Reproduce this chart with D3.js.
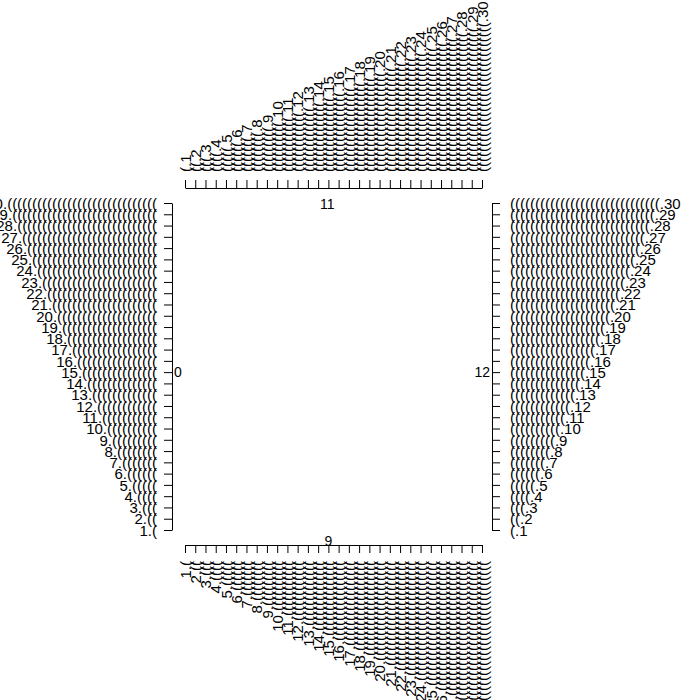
<!DOCTYPE html>
<html>
<head>
<meta charset="utf-8">
<script src="https://cdn.jsdelivr.net/npm/d3@7"></script>
<style>
  html, body { margin: 0; padding: 0; background: #fff; }
  svg { display: block; }
  text { font-family: "Liberation Sans", Arial, Helvetica, sans-serif; fill: #000; }
</style>
</head>
<body>
<svg id="chart" width="700" height="700"></svg>
<script>
// ---- data ----
const tickValues = [1,2,3,4,5,6,7,8,9,10,11,12,13,14,15,16,17,18,19,20,21,22,23,24,25,26,27,28,29,30];
const parenCounts = [1,2,3,4,5,6,7,8,9,10,11,12,13,14,15,16,17,18,19,20,21,22,23,24,25,26,27,28,29,30];
const axisTitles = { top: "11", left: "0", right: "12", bottom: "9" };
const titleAt = 15;

// labels: parens then ".n" (top/right), "n." then parens (left/bottom)
const labelParenFirst = tickValues.map((v, i) => "(".repeat(parenCounts[i]) + "." + v);
const labelNumberFirst = tickValues.map((v, i) => v + "." + "(".repeat(parenCounts[i]));

// ---- layout ----
const svg = d3.select("#chart");
const x = d3.scaleLinear().domain([1, 30]).range([185, 482]);
const y = d3.scaleLinear().domain([1, 30]).range([530, 203]);
const topY = 188, bottomY = 545, leftX = 172, rightX = 492;
const fs = 15;

function styleAxis(g) {
  g.selectAll("path.domain").attr("stroke", "#000").attr("stroke-width", 1);
  g.selectAll(".tick line").attr("stroke", "#000").attr("stroke-width", 1);
  g.selectAll("text").attr("font-size", fs).attr("fill", "#000")
    .attr("font-family", '"Liberation Sans", Arial, sans-serif');
}

// top axis
const gTop = svg.append("g").attr("transform", `translate(0,${topY})`)
  .call(d3.axisTop(x).tickValues(tickValues).tickSize(8).tickSizeOuter(0)
    .tickFormat((d, i) => labelParenFirst[i]));
styleAxis(gTop);
gTop.selectAll(".tick text")
  .attr("transform", "rotate(-90)")
  .attr("x", 16).attr("y", 0).attr("dy", "0.35em")
  .attr("text-anchor", "start");

// bottom axis
const gBottom = svg.append("g").attr("transform", `translate(0,${bottomY})`)
  .call(d3.axisBottom(x).tickValues(tickValues).tickSize(8).tickSizeOuter(0)
    .tickFormat((d, i) => labelNumberFirst[i]));
styleAxis(gBottom);
gBottom.selectAll(".tick text")
  .attr("transform", "rotate(-90)")
  .attr("x", -16).attr("y", 0).attr("dy", "0.35em")
  .attr("text-anchor", "end");

// left axis
const gLeft = svg.append("g").attr("transform", `translate(${leftX},0)`)
  .call(d3.axisLeft(y).tickValues(tickValues).tickSize(8).tickSizeOuter(0).tickPadding(7)
    .tickFormat((d, i) => labelNumberFirst[i]));
styleAxis(gLeft);
gLeft.selectAll(".tick text").attr("dy", "0.35em");

// right axis
const gRight = svg.append("g").attr("transform", `translate(${rightX},0)`)
  .call(d3.axisRight(y).tickValues(tickValues).tickSize(8).tickSizeOuter(0).tickPadding(10)
    .tickFormat((d, i) => labelParenFirst[i]));
styleAxis(gRight);
gRight.selectAll(".tick text").attr("dy", "0.35em");

// axis titles
const tfs = 14;
svg.append("text").attr("x", x(titleAt) - 1).attr("y", 209)
  .attr("text-anchor", "middle").attr("font-size", tfs).text(axisTitles.top);
svg.append("text").attr("x", x(titleAt)).attr("y", 546)
  .attr("text-anchor", "middle").attr("font-size", tfs).text(axisTitles.bottom);
svg.append("text").attr("x", 174).attr("y", y(titleAt)).attr("dy", "0.35em")
  .attr("text-anchor", "start").attr("font-size", tfs).text(axisTitles.left);
svg.append("text").attr("x", 490).attr("y", y(titleAt)).attr("dy", "0.35em")
  .attr("text-anchor", "end").attr("font-size", tfs).text(axisTitles.right);
</script>
</body>
</html>
